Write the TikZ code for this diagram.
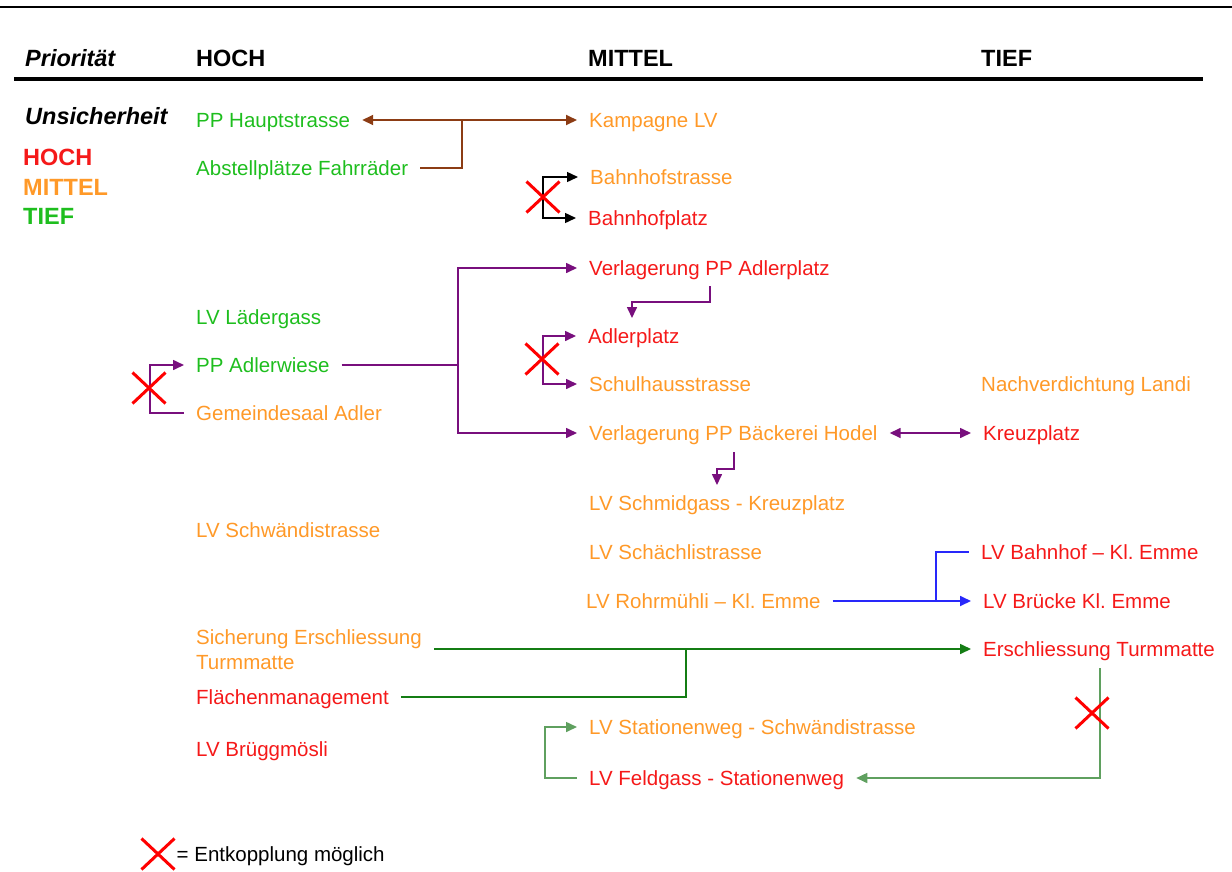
\documentclass[tikz,border=0pt]{standalone}
\usepackage{fontspec}
\setmainfont{Liberation Sans}
\usepackage{tikz}
\usetikzlibrary{positioning, arrows.meta, shapes.misc}
\frenchspacing

\definecolor{tRot}{RGB}{245,25,25}
\definecolor{tOrange}{RGB}{255,153,40}
\definecolor{tGruen}{RGB}{30,190,30}
\definecolor{lBraun}{RGB}{140,60,20}
\definecolor{lLila}{RGB}{120,15,125}
\definecolor{lBlau}{RGB}{40,40,250}
\definecolor{lGruen}{RGB}{20,125,20}
\definecolor{lGruenHell}{RGB}{95,160,95}

\tikzset{
	>={Triangle[length=11pt,width=10pt]},
	eintragbasis/.style={inner xsep=12pt, inner ysep=0pt, xshift=-12pt, font=\fontsize{20.5}{25}\selectfont},
	eintrag/.style={eintragbasis, anchor=west, text height=15pt, text depth=0pt},
	kopf/.style={anchor=west, inner sep=0pt, text height=17pt, text depth=0pt, font=\fontsize{23.5}{28}\selectfont\bfseries},
	kreuz/.style={cross out, draw=red, line width=3pt, minimum width=30pt, minimum height=28pt, inner sep=0pt},
	braun/.style={draw=lBraun, line width=1.8pt},
	lila/.style={draw=lLila, line width=1.6pt},
	schwarz/.style={draw=black, line width=1.4pt},
	blau/.style={draw=lBlau, line width=1.8pt},
	gruen/.style={draw=lGruen, line width=1.6pt},
	gruenhell/.style={draw=lGruenHell, line width=1.6pt}
}

\begin{document}
\begin{tikzpicture}[x=1pt, y=-1pt]
	\useasboundingbox (0,0) rectangle (1232,871);
	\draw[line width=2pt] (0,7) -- (1232,7);
	\draw[line width=3.5pt] (14,79) -- (1203,79);
	
	\node[kopf, font=\fontsize{23.5}{28}\selectfont\bfseries\itshape] (prio) at (25,58) {Priorität};
	\node[kopf] (khoch) at (196,58) {HOCH};
	\node[kopf] (kmittel) at (588,58) {MITTEL};
	\node[kopf] (ktief) at (981,58) {TIEF};
	\node[kopf, font=\fontsize{23.5}{28}\selectfont\bfseries\itshape] (unsich) at (25,116) {Unsicherheit};
	\node[kopf, text=tRot] (uhoch) at (23,157) {HOCH};
	\node[kopf, text=tOrange] (umittel) at (23,187) {MITTEL};
	\node[kopf, text=tGruen] (utief) at (23,216) {TIEF};
	
	\node[eintrag, text=tGruen] (hauptstr) at (196,120) {PP Hauptstrasse};
	\node[eintrag, text=tGruen] (abstell) at (196,168) {Abstellplätze Fahrräder};
	\node[eintrag, text=tGruen] (laeder) at (196,317) {LV Lädergass};
	\node[eintrag, text=tGruen] (adlerwiese) at (196,365) {PP Adlerwiese};
	\node[eintrag, text=tOrange] (gemeinde) at (196,413) {Gemeindesaal Adler};
	\node[eintrag, text=tOrange] (schwaendi) at (196,530) {LV Schwändistrasse};
	\node[eintragbasis, anchor=north west, align=left, text=tOrange] (sicherung) at (196,629) {Sicherung Erschliessung\\Turmmatte};
	\node[eintrag, text=tRot] (flaechen) at (196,697) {Flächenmanagement};
	\node[eintrag, text=tRot] (brueggm) at (196,749) {LV Brüggmösli};
	
	\node[eintrag, text=tOrange] (kampagne) at (589,120) {Kampagne LV};
	\node[eintrag, text=tOrange] (bhstr) at (590,177) {Bahnhofstrasse};
	\node[eintrag, text=tRot] (bhpl) at (588,218) {Bahnhofplatz};
	\node[eintrag, text=tRot] (verladler) at (589,268) {Verlagerung PP Adlerplatz};
	\node[eintrag, text=tRot] (adlerpl) at (588,336) {Adlerplatz};
	\node[eintrag, text=tOrange] (schulh) at (589,384) {Schulhausstrasse};
	\node[eintrag, text=tOrange] (verlbaeck) at (589,433) {Verlagerung PP Bäckerei Hodel};
	\node[eintrag, text=tOrange] (schmid) at (589,503) {LV Schmidgass - Kreuzplatz};
	\node[eintrag, text=tOrange] (schaechli) at (589,552) {LV Schächlistrasse};
	\node[eintrag, text=tOrange] (rohr) at (586,601) {LV Rohrmühli – Kl. Emme};
	\node[eintrag, text=tOrange] (stationen) at (589,727) {LV Stationenweg - Schwändistrasse};
	\node[eintrag, text=tRot] (feldgass) at (589,778) {LV Feldgass - Stationenweg};
	
	\node[eintrag, text=tOrange] (landi) at (981,384) {Nachverdichtung Landi};
	\node[eintrag, text=tRot] (kreuzpl) at (983,433) {Kreuzplatz};
	\node[eintrag, text=tRot] (bhemme) at (981,552) {LV Bahnhof – Kl. Emme};
	\node[eintrag, text=tRot] (bruecke) at (983,601) {LV Brücke Kl. Emme};
	\node[eintrag, text=tRot] (erschl) at (983,649) {Erschliessung Turmmatte};
	
	\coordinate (brj) at (462,120);
	\draw[braun, <->] (hauptstr.east) -- (kampagne.west);
	\draw[braun] (abstell.east) -| (brj);
	
	\coordinate (bhj) at (543,197);
	\draw[schwarz, ->] (bhj) |- (bhstr.west);
	\draw[schwarz, ->] (bhj) |- (bhpl.west);
	
	\coordinate (pj) at (458,365);
	\draw[lila] (adlerwiese.east) -- (pj);
	\draw[lila, ->] (pj) |- (verladler.west);
	\draw[lila, ->] (pj) |- (verlbaeck.west);
	\coordinate (pa1) at (710,286);
	\coordinate (pa2) at (632,318);
	\draw[lila, ->] (pa1) -- ++(0,16) -| (pa2);
	\coordinate (asj) at (543,359);
	\draw[lila, ->] (asj) |- (adlerpl.west);
	\draw[lila, ->] (asj) |- (schulh.west);
	\coordinate (lj) at (150,388);
	\draw[lila, ->] (lj) |- (adlerwiese.west);
	\draw[lila] (lj) |- (gemeinde.west);
	\draw[lila, <->] (verlbaeck.east) -- (kreuzpl.west);
	\coordinate (pb1) at (734,452);
	\coordinate (pb2) at (717,485);
	\draw[lila, ->] (pb1) -- ++(0,17) -| (pb2);
	
	\coordinate (bj) at (936,601);
	\draw[blau, ->] (rohr.east) -- (bruecke.west);
	\draw[blau] (bj) |- (bhemme.west);
	
	\coordinate (gj) at (686,649);
	\draw[gruen, ->] (sicherung.east |- erschl.west) -- (erschl.west);
	\draw[gruen] (flaechen.east) -| (gj);
	\coordinate (ej) at (1100,668);
	\draw[gruenhell, ->] (ej) |- (feldgass.east);
	\draw[gruenhell, ->] (feldgass.west) -- ++(-32,0) |- (stationen.west);
	
	\node[kreuz] (kx1) at (543,197) {};
	\node[kreuz] (kx2) at (542,359) {};
	\node[kreuz] (kx3) at (149,388) {};
	\node[kreuz] (kx4) at (1092,713) {};
	
	\node[kreuz] (legx) at (158,854) {};
	\node[right=2pt of legx, inner sep=0pt, text height=14pt, text depth=0pt, font=\fontsize{20.5}{24}\selectfont] (legtext) {= Entkopplung möglich};
\end{tikzpicture}
\end{document}
